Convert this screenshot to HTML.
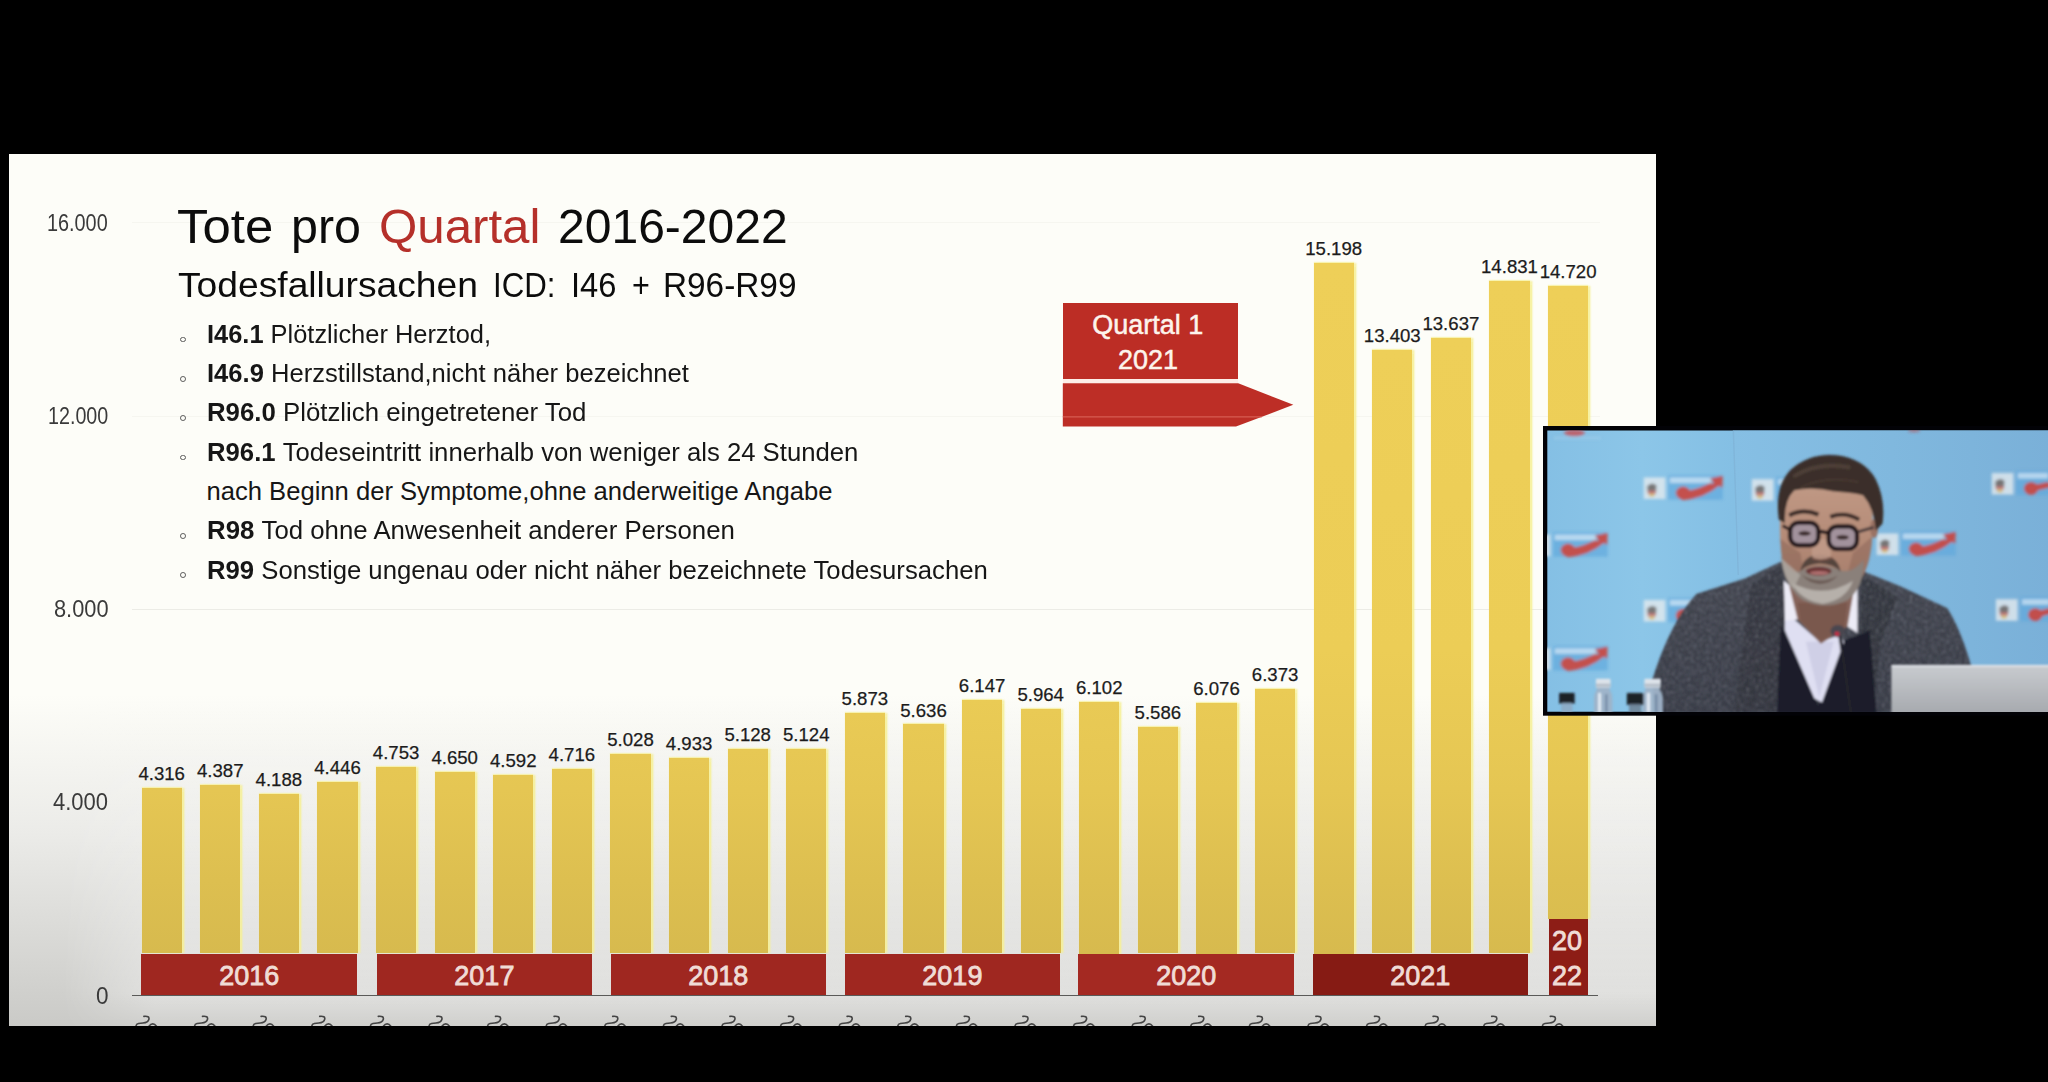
<!DOCTYPE html>
<html><head><meta charset="utf-8"><title>Tote pro Quartal 2016-2022</title>
<style>
html,body{margin:0;padding:0;background:#000;}
body{width:2048px;height:1082px;position:relative;overflow:hidden;font-family:"Liberation Sans",sans-serif;}
.r{position:absolute;box-sizing:content-box;}
.t{position:absolute;white-space:nowrap;line-height:1;transform-origin:0 0;font-family:"Liberation Sans",sans-serif;}
#slide{background:linear-gradient(to bottom,#fdfdf8 0%,#fdfdf8 62%,#ebebe8 78%,#cacac7 100%);}
.bar{position:absolute;box-shadow:2.6px 0 1.6px rgba(246,240,150,.85),0 -1px 1px rgba(248,241,166,.8);}
#clip{position:absolute;left:0;top:0;width:1656px;height:1026px;overflow:hidden;}
</style></head><body>
<div id="clip">
<div class="r" id="slide" style="left:9px;top:153.5px;width:1647px;height:872.5px;"></div>
<div class="r" style="left:60px;top:700px;width:1596px;height:326px;background:linear-gradient(to bottom,rgba(255,255,255,0),rgba(255,255,255,.36) 90%,rgba(255,255,255,.1));-webkit-mask-image:linear-gradient(to right,transparent 0,#000 95px);mask-image:linear-gradient(to right,transparent 0,#000 95px);"></div>
<div class="r" style="left:132.00px;top:608.80px;width:1468.00px;height:1.00px;background:#ecece6;"></div>
<div class="r" style="left:132.00px;top:222.00px;width:1468.00px;height:1.00px;background:#f6f6f0;"></div>
<div class="r" style="left:132.00px;top:416.00px;width:1468.00px;height:1.00px;background:#f6f6f0;"></div>
<span class="t" style="left:47.30px;top:211.53px;font-size:23.0px;color:#3a3a3a;transform:scaleX(0.8625);">16.000</span>
<span class="t" style="left:47.70px;top:404.53px;font-size:23.0px;color:#3a3a3a;transform:scaleX(0.8568);">12.000</span>
<span class="t" style="left:53.50px;top:598.13px;font-size:23.0px;color:#3a3a3a;transform:scaleX(0.9478);">8.000</span>
<span class="t" style="left:53.00px;top:791.13px;font-size:23.0px;color:#3a3a3a;transform:scaleX(0.9565);">4.000</span>
<span class="t" style="left:95.50px;top:984.53px;font-size:23.0px;color:#3a3a3a;transform:scaleX(0.9804);">0</span>
<div class="bar" style="left:141.50px;top:788.20px;width:40.4px;height:165.30px;background:linear-gradient(to bottom,rgb(229,198,83) 0.0px,rgb(229,198,83) 1.8px,rgb(221,191,80) 91.8px,rgb(215,186,78) 165.3px);"></div>
<span class="t" style="left:138.42px;top:765.25px;font-size:18.6px;color:#1c1c1c;-webkit-text-stroke:0.25px #1c1c1c;">4.316</span>
<div class="bar" style="left:200.10px;top:784.77px;width:40.4px;height:168.73px;background:linear-gradient(to bottom,rgb(229,198,83) 0.0px,rgb(229,198,83) 5.2px,rgb(221,191,80) 95.2px,rgb(215,186,78) 168.7px);"></div>
<span class="t" style="left:197.02px;top:761.83px;font-size:18.6px;color:#1c1c1c;-webkit-text-stroke:0.25px #1c1c1c;">4.387</span>
<div class="bar" style="left:258.70px;top:794.37px;width:40.4px;height:159.13px;background:linear-gradient(to bottom,rgb(229,198,83) 0.0px,rgb(221,191,80) 85.6px,rgb(215,186,78) 159.1px);"></div>
<span class="t" style="left:255.62px;top:771.43px;font-size:18.6px;color:#1c1c1c;-webkit-text-stroke:0.25px #1c1c1c;">4.188</span>
<div class="bar" style="left:317.30px;top:781.92px;width:40.4px;height:171.58px;background:linear-gradient(to bottom,rgb(229,198,83) 0.0px,rgb(229,198,83) 8.1px,rgb(221,191,80) 98.1px,rgb(215,186,78) 171.6px);"></div>
<span class="t" style="left:314.22px;top:758.98px;font-size:18.6px;color:#1c1c1c;-webkit-text-stroke:0.25px #1c1c1c;">4.446</span>
<div class="bar" style="left:375.90px;top:767.11px;width:40.4px;height:186.39px;background:linear-gradient(to bottom,rgb(230,199,83) 0.0px,rgb(229,198,83) 22.9px,rgb(221,191,80) 112.9px,rgb(215,186,78) 186.4px);"></div>
<span class="t" style="left:372.82px;top:744.16px;font-size:18.6px;color:#1c1c1c;-webkit-text-stroke:0.25px #1c1c1c;">4.753</span>
<div class="bar" style="left:434.50px;top:772.08px;width:40.4px;height:181.42px;background:linear-gradient(to bottom,rgb(230,199,83) 0.0px,rgb(229,198,83) 17.9px,rgb(221,191,80) 107.9px,rgb(215,186,78) 181.4px);"></div>
<span class="t" style="left:431.42px;top:749.13px;font-size:18.6px;color:#1c1c1c;-webkit-text-stroke:0.25px #1c1c1c;">4.650</span>
<div class="bar" style="left:493.10px;top:774.88px;width:40.4px;height:178.62px;background:linear-gradient(to bottom,rgb(230,199,83) 0.0px,rgb(229,198,83) 15.1px,rgb(221,191,80) 105.1px,rgb(215,186,78) 178.6px);"></div>
<span class="t" style="left:490.02px;top:751.93px;font-size:18.6px;color:#1c1c1c;-webkit-text-stroke:0.25px #1c1c1c;">4.592</span>
<div class="bar" style="left:551.70px;top:768.89px;width:40.4px;height:184.61px;background:linear-gradient(to bottom,rgb(230,199,83) 0.0px,rgb(229,198,83) 21.1px,rgb(221,191,80) 111.1px,rgb(215,186,78) 184.6px);"></div>
<span class="t" style="left:548.62px;top:745.95px;font-size:18.6px;color:#1c1c1c;-webkit-text-stroke:0.25px #1c1c1c;">4.716</span>
<div class="bar" style="left:610.30px;top:753.83px;width:40.4px;height:199.67px;background:linear-gradient(to bottom,rgb(231,200,84) 0.0px,rgb(229,198,83) 36.2px,rgb(221,191,80) 126.2px,rgb(215,186,78) 199.7px);"></div>
<span class="t" style="left:607.22px;top:730.89px;font-size:18.6px;color:#1c1c1c;-webkit-text-stroke:0.25px #1c1c1c;">5.028</span>
<div class="bar" style="left:668.90px;top:758.42px;width:40.4px;height:195.08px;background:linear-gradient(to bottom,rgb(231,200,84) 0.0px,rgb(229,198,83) 31.6px,rgb(221,191,80) 121.6px,rgb(215,186,78) 195.1px);"></div>
<span class="t" style="left:665.82px;top:735.47px;font-size:18.6px;color:#1c1c1c;-webkit-text-stroke:0.25px #1c1c1c;">4.933</span>
<div class="bar" style="left:727.50px;top:749.01px;width:40.4px;height:204.49px;background:linear-gradient(to bottom,rgb(231,200,84) 0.0px,rgb(229,198,83) 41.0px,rgb(221,191,80) 131.0px,rgb(215,186,78) 204.5px);"></div>
<span class="t" style="left:724.42px;top:726.06px;font-size:18.6px;color:#1c1c1c;-webkit-text-stroke:0.25px #1c1c1c;">5.128</span>
<div class="bar" style="left:786.10px;top:749.20px;width:40.4px;height:204.30px;background:linear-gradient(to bottom,rgb(231,200,84) 0.0px,rgb(229,198,83) 40.8px,rgb(221,191,80) 130.8px,rgb(215,186,78) 204.3px);"></div>
<span class="t" style="left:783.02px;top:726.26px;font-size:18.6px;color:#1c1c1c;-webkit-text-stroke:0.25px #1c1c1c;">5.124</span>
<div class="bar" style="left:844.70px;top:713.05px;width:40.4px;height:240.45px;background:linear-gradient(to bottom,rgb(233,202,85) 0.0px,rgb(229,198,83) 76.9px,rgb(221,191,80) 166.9px,rgb(215,186,78) 240.4px);"></div>
<span class="t" style="left:841.62px;top:690.11px;font-size:18.6px;color:#1c1c1c;-webkit-text-stroke:0.25px #1c1c1c;">5.873</span>
<div class="bar" style="left:903.30px;top:724.49px;width:40.4px;height:229.01px;background:linear-gradient(to bottom,rgb(232,201,84) 0.0px,rgb(229,198,83) 65.5px,rgb(221,191,80) 155.5px,rgb(215,186,78) 229.0px);"></div>
<span class="t" style="left:900.22px;top:701.54px;font-size:18.6px;color:#1c1c1c;-webkit-text-stroke:0.25px #1c1c1c;">5.636</span>
<div class="bar" style="left:961.90px;top:699.83px;width:40.4px;height:253.67px;background:linear-gradient(to bottom,rgb(234,203,85) 0.0px,rgb(229,198,83) 90.2px,rgb(221,191,80) 180.2px,rgb(215,186,78) 253.7px);"></div>
<span class="t" style="left:958.82px;top:676.88px;font-size:18.6px;color:#1c1c1c;-webkit-text-stroke:0.25px #1c1c1c;">6.147</span>
<div class="bar" style="left:1020.50px;top:708.66px;width:40.4px;height:244.84px;background:linear-gradient(to bottom,rgb(233,202,85) 0.0px,rgb(229,198,83) 81.3px,rgb(221,191,80) 171.3px,rgb(215,186,78) 244.8px);"></div>
<span class="t" style="left:1017.42px;top:685.71px;font-size:18.6px;color:#1c1c1c;-webkit-text-stroke:0.25px #1c1c1c;">5.964</span>
<div class="bar" style="left:1079.10px;top:702.00px;width:40.4px;height:251.50px;background:linear-gradient(to bottom,rgb(233,202,85) 0.0px,rgb(229,198,83) 88.0px,rgb(221,191,80) 178.0px,rgb(215,186,78) 251.5px);"></div>
<span class="t" style="left:1076.02px;top:679.05px;font-size:18.6px;color:#1c1c1c;-webkit-text-stroke:0.25px #1c1c1c;">6.102</span>
<div class="bar" style="left:1137.70px;top:726.90px;width:40.4px;height:226.60px;background:linear-gradient(to bottom,rgb(232,201,84) 0.0px,rgb(229,198,83) 63.1px,rgb(221,191,80) 153.1px,rgb(215,186,78) 226.6px);"></div>
<span class="t" style="left:1134.62px;top:703.96px;font-size:18.6px;color:#1c1c1c;-webkit-text-stroke:0.25px #1c1c1c;">5.586</span>
<div class="bar" style="left:1196.30px;top:703.25px;width:40.4px;height:250.25px;background:linear-gradient(to bottom,rgb(233,202,85) 0.0px,rgb(229,198,83) 86.7px,rgb(221,191,80) 176.7px,rgb(215,186,78) 250.2px);"></div>
<span class="t" style="left:1193.22px;top:680.31px;font-size:18.6px;color:#1c1c1c;-webkit-text-stroke:0.25px #1c1c1c;">6.076</span>
<div class="bar" style="left:1254.90px;top:688.92px;width:40.4px;height:264.58px;background:linear-gradient(to bottom,rgb(234,203,85) 0.0px,rgb(229,198,83) 101.1px,rgb(221,191,80) 191.1px,rgb(215,186,78) 264.6px);"></div>
<span class="t" style="left:1251.82px;top:665.98px;font-size:18.6px;color:#1c1c1c;-webkit-text-stroke:0.25px #1c1c1c;">6.373</span>
<div class="bar" style="left:1313.50px;top:263.00px;width:40.4px;height:690.50px;background:linear-gradient(to bottom,rgb(238,207,88) 0.0px,rgb(236,205,86) 387.0px,rgb(229,198,83) 527.0px,rgb(221,191,80) 617.0px,rgb(215,186,78) 690.5px);"></div>
<span class="t" style="left:1305.24px;top:240.05px;font-size:18.6px;color:#1c1c1c;-webkit-text-stroke:0.25px #1c1c1c;">15.198</span>
<div class="bar" style="left:1372.10px;top:349.63px;width:40.4px;height:603.87px;background:linear-gradient(to bottom,rgb(238,207,88) 0.0px,rgb(236,205,86) 300.4px,rgb(229,198,83) 440.4px,rgb(221,191,80) 530.4px,rgb(215,186,78) 603.9px);"></div>
<span class="t" style="left:1363.84px;top:326.69px;font-size:18.6px;color:#1c1c1c;-webkit-text-stroke:0.25px #1c1c1c;">13.403</span>
<div class="bar" style="left:1430.70px;top:338.34px;width:40.4px;height:615.16px;background:linear-gradient(to bottom,rgb(238,207,88) 0.0px,rgb(236,205,86) 311.7px,rgb(229,198,83) 451.7px,rgb(221,191,80) 541.7px,rgb(215,186,78) 615.2px);"></div>
<span class="t" style="left:1422.44px;top:315.39px;font-size:18.6px;color:#1c1c1c;-webkit-text-stroke:0.25px #1c1c1c;">13.637</span>
<div class="bar" style="left:1489.30px;top:280.71px;width:40.4px;height:672.79px;background:linear-gradient(to bottom,rgb(238,207,88) 0.0px,rgb(236,205,86) 369.3px,rgb(229,198,83) 509.3px,rgb(221,191,80) 599.3px,rgb(215,186,78) 672.8px);"></div>
<span class="t" style="left:1481.04px;top:257.77px;font-size:18.6px;color:#1c1c1c;-webkit-text-stroke:0.25px #1c1c1c;">14.831</span>
<div class="bar" style="left:1547.90px;top:286.07px;width:40.4px;height:632.53px;background:linear-gradient(to bottom,rgb(238,207,88) 0.0px,rgb(236,205,86) 363.9px,rgb(229,198,83) 503.9px,rgb(221,191,80) 593.9px,rgb(218,189,79) 632.5px);"></div>
<span class="t" style="left:1539.64px;top:263.12px;font-size:18.6px;color:#1c1c1c;-webkit-text-stroke:0.25px #1c1c1c;">14.720</span>
<div class="r" style="left:141.40px;top:953.50px;width:215.70px;height:41.70px;background:#9f2720;"></div>
<span class="t" style="left:219.19px;top:962.54px;font-size:27px;color:#f0dcd6;-webkit-text-stroke:0.8px #f0dcd6;">2016</span>
<div class="r" style="left:376.70px;top:953.50px;width:215.40px;height:41.70px;background:#9f2720;"></div>
<span class="t" style="left:454.34px;top:962.54px;font-size:27px;color:#f0dcd6;-webkit-text-stroke:0.8px #f0dcd6;">2017</span>
<div class="r" style="left:610.50px;top:953.50px;width:215.70px;height:41.70px;background:#9f2720;"></div>
<span class="t" style="left:688.29px;top:962.54px;font-size:27px;color:#f0dcd6;-webkit-text-stroke:0.8px #f0dcd6;">2018</span>
<div class="r" style="left:844.50px;top:953.50px;width:215.80px;height:41.70px;background:#9f2720;"></div>
<span class="t" style="left:922.34px;top:962.54px;font-size:27px;color:#f0dcd6;-webkit-text-stroke:0.8px #f0dcd6;">2019</span>
<div class="r" style="left:1078.40px;top:953.50px;width:215.80px;height:41.70px;background:#a42922;"></div>
<span class="t" style="left:1156.24px;top:962.54px;font-size:27px;color:#f0dcd6;-webkit-text-stroke:0.8px #f0dcd6;">2020</span>
<div class="r" style="left:1312.60px;top:953.50px;width:215.30px;height:41.70px;background:#861b14;"></div>
<span class="t" style="left:1390.19px;top:962.54px;font-size:27px;color:#f0dcd6;-webkit-text-stroke:0.8px #f0dcd6;">2021</span>
<div class="r" style="left:1548.50px;top:918.60px;width:39.00px;height:76.60px;background:#8d1d16;"></div>
<span class="t" style="left:1552.00px;top:927.64px;font-size:27px;color:#f0dcd6;-webkit-text-stroke:0.8px #f0dcd6;">20</span>
<span class="t" style="left:1552.00px;top:962.84px;font-size:27px;color:#f0dcd6;-webkit-text-stroke:0.8px #f0dcd6;">22</span>
<div class="r" style="left:132.00px;top:994.70px;width:1466.00px;height:1.30px;background:#5a5a58;"></div>
<svg class="r" style="left:0;top:0" width="1656" height="1026" viewBox="0 0 1656 1026"><path d="M143.9 1016.4Q149.7 1015.8 148.9 1019.2Q148.1 1022.6 143.0 1023L138.5 1023.5Q135.9 1024 135.9 1027M148.7 1026.5Q152.8 1021.3 156.7 1026.5M202.5 1016.4Q208.3 1015.8 207.5 1019.2Q206.7 1022.6 201.6 1023L197.1 1023.5Q194.5 1024 194.5 1027M207.3 1026.5Q211.4 1021.3 215.3 1026.5M261.1 1016.4Q266.9 1015.8 266.1 1019.2Q265.3 1022.6 260.2 1023L255.7 1023.5Q253.1 1024 253.1 1027M265.9 1026.5Q270.0 1021.3 273.9 1026.5M319.7 1016.4Q325.5 1015.8 324.7 1019.2Q323.9 1022.6 318.8 1023L314.3 1023.5Q311.7 1024 311.7 1027M324.5 1026.5Q328.6 1021.3 332.5 1026.5M378.3 1016.4Q384.1 1015.8 383.3 1019.2Q382.5 1022.6 377.4 1023L372.9 1023.5Q370.3 1024 370.3 1027M383.1 1026.5Q387.2 1021.3 391.1 1026.5M436.9 1016.4Q442.7 1015.8 441.9 1019.2Q441.1 1022.6 436.0 1023L431.5 1023.5Q428.9 1024 428.9 1027M441.7 1026.5Q445.8 1021.3 449.7 1026.5M495.5 1016.4Q501.3 1015.8 500.5 1019.2Q499.7 1022.6 494.6 1023L490.1 1023.5Q487.5 1024 487.5 1027M500.3 1026.5Q504.4 1021.3 508.3 1026.5M554.1 1016.4Q559.9 1015.8 559.1 1019.2Q558.3 1022.6 553.2 1023L548.7 1023.5Q546.1 1024 546.1 1027M558.9 1026.5Q563.0 1021.3 566.9 1026.5M612.7 1016.4Q618.5 1015.8 617.7 1019.2Q616.9 1022.6 611.8 1023L607.3 1023.5Q604.7 1024 604.7 1027M617.5 1026.5Q621.6 1021.3 625.5 1026.5M671.3 1016.4Q677.1 1015.8 676.3 1019.2Q675.5 1022.6 670.4 1023L665.9 1023.5Q663.3 1024 663.3 1027M676.1 1026.5Q680.2 1021.3 684.1 1026.5M729.9 1016.4Q735.7 1015.8 734.9 1019.2Q734.1 1022.6 729.0 1023L724.5 1023.5Q721.9 1024 721.9 1027M734.7 1026.5Q738.8 1021.3 742.7 1026.5M788.5 1016.4Q794.3 1015.8 793.5 1019.2Q792.7 1022.6 787.6 1023L783.1 1023.5Q780.5 1024 780.5 1027M793.3 1026.5Q797.4 1021.3 801.3 1026.5M847.1 1016.4Q852.9 1015.8 852.1 1019.2Q851.3 1022.6 846.2 1023L841.7 1023.5Q839.1 1024 839.1 1027M851.9 1026.5Q856.0 1021.3 859.9 1026.5M905.7 1016.4Q911.5 1015.8 910.7 1019.2Q909.9 1022.6 904.8 1023L900.3 1023.5Q897.7 1024 897.7 1027M910.5 1026.5Q914.6 1021.3 918.5 1026.5M964.3 1016.4Q970.1 1015.8 969.3 1019.2Q968.5 1022.6 963.4 1023L958.9 1023.5Q956.3 1024 956.3 1027M969.1 1026.5Q973.2 1021.3 977.1 1026.5M1022.9 1016.4Q1028.7 1015.8 1027.9 1019.2Q1027.1 1022.6 1022.0 1023L1017.5 1023.5Q1014.9 1024 1014.9 1027M1027.7 1026.5Q1031.8 1021.3 1035.7 1026.5M1081.5 1016.4Q1087.3 1015.8 1086.5 1019.2Q1085.7 1022.6 1080.6 1023L1076.1 1023.5Q1073.5 1024 1073.5 1027M1086.3 1026.5Q1090.4 1021.3 1094.3 1026.5M1140.1 1016.4Q1145.9 1015.8 1145.1 1019.2Q1144.3 1022.6 1139.2 1023L1134.7 1023.5Q1132.1 1024 1132.1 1027M1144.9 1026.5Q1149.0 1021.3 1152.9 1026.5M1198.7 1016.4Q1204.5 1015.8 1203.7 1019.2Q1202.9 1022.6 1197.8 1023L1193.3 1023.5Q1190.7 1024 1190.7 1027M1203.5 1026.5Q1207.6 1021.3 1211.5 1026.5M1257.3 1016.4Q1263.1 1015.8 1262.3 1019.2Q1261.5 1022.6 1256.4 1023L1251.9 1023.5Q1249.3 1024 1249.3 1027M1262.1 1026.5Q1266.2 1021.3 1270.1 1026.5M1315.9 1016.4Q1321.7 1015.8 1320.9 1019.2Q1320.1 1022.6 1315.0 1023L1310.5 1023.5Q1307.9 1024 1307.9 1027M1320.7 1026.5Q1324.8 1021.3 1328.7 1026.5M1374.5 1016.4Q1380.3 1015.8 1379.5 1019.2Q1378.7 1022.6 1373.6 1023L1369.1 1023.5Q1366.5 1024 1366.5 1027M1379.3 1026.5Q1383.4 1021.3 1387.3 1026.5M1433.1 1016.4Q1438.9 1015.8 1438.1 1019.2Q1437.3 1022.6 1432.2 1023L1427.7 1023.5Q1425.1 1024 1425.1 1027M1437.9 1026.5Q1442.0 1021.3 1445.9 1026.5M1491.7 1016.4Q1497.5 1015.8 1496.7 1019.2Q1495.9 1022.6 1490.8 1023L1486.3 1023.5Q1483.7 1024 1483.7 1027M1496.5 1026.5Q1500.6 1021.3 1504.5 1026.5M1550.3 1016.4Q1556.1 1015.8 1555.3 1019.2Q1554.5 1022.6 1549.4 1023L1544.9 1023.5Q1542.3 1024 1542.3 1027M1555.1 1026.5Q1559.2 1021.3 1563.1 1026.5" fill="none" stroke="#444" stroke-width="1.6" stroke-linecap="round"/></svg>
<span class="t" style="left:176.90px;top:202.32px;font-size:49.0px;color:#0c0c0c;transform:scaleX(1.0386);">Tote</span>
<span class="t" style="left:291.30px;top:202.32px;font-size:49.0px;color:#0c0c0c;transform:scaleX(0.9877);">pro</span>
<span class="t" style="left:378.80px;top:202.32px;font-size:49.0px;color:#b5302a;transform:scaleX(1.0047);">Quartal</span>
<span class="t" style="left:557.50px;top:202.32px;font-size:49.0px;color:#0c0c0c;transform:scaleX(0.9801);">2016-2022</span>
<span class="t" style="left:177.80px;top:268.03px;font-size:35.4px;color:#0c0c0c;transform:scaleX(1.0514);">Todesfallursachen</span>
<span class="t" style="left:492.50px;top:268.03px;font-size:35.4px;color:#0c0c0c;transform:scaleX(0.8828);">ICD:</span>
<span class="t" style="left:570.90px;top:268.03px;font-size:35.4px;color:#0c0c0c;transform:scaleX(0.9235);">I46</span>
<span class="t" style="left:631.90px;top:268.03px;font-size:35.4px;color:#0c0c0c;transform:scaleX(0.8624);">+</span>
<span class="t" style="left:663.10px;top:268.03px;font-size:35.4px;color:#0c0c0c;transform:scaleX(0.9420);">R96-R99</span>
<span class="t" style="left:207.00px;top:322.03px;font-size:25.6px;color:#161616;transform:scaleX(0.9931);"><b>I46.1 </b>Plötzlicher Herztod,</span>
<div class="r" style="left:180.2px;top:336.7px;width:3.8px;height:3.8px;border:1.4px solid #5a5a5a;border-radius:50%;"></div>
<span class="t" style="left:207.00px;top:361.33px;font-size:25.6px;color:#161616;transform:scaleX(0.9992);"><b>I46.9 </b>Herzstillstand,nicht näher bezeichnet</span>
<div class="r" style="left:180.2px;top:376.0px;width:3.8px;height:3.8px;border:1.4px solid #5a5a5a;border-radius:50%;"></div>
<span class="t" style="left:207.00px;top:400.33px;font-size:25.6px;color:#161616;transform:scaleX(1.0076);"><b>R96.0 </b>Plötzlich eingetretener Tod</span>
<div class="r" style="left:180.2px;top:415.0px;width:3.8px;height:3.8px;border:1.4px solid #5a5a5a;border-radius:50%;"></div>
<span class="t" style="left:207.00px;top:439.93px;font-size:25.6px;color:#161616;transform:scaleX(1.0039);"><b>R96.1 </b>Todeseintritt innerhalb von weniger als 24 Stunden</span>
<div class="r" style="left:180.2px;top:454.6px;width:3.8px;height:3.8px;border:1.4px solid #5a5a5a;border-radius:50%;"></div>
<span class="t" style="left:206.50px;top:478.73px;font-size:25.6px;color:#161616;">nach Beginn der Symptome,ohne anderweitige Angabe</span>
<span class="t" style="left:207.00px;top:518.33px;font-size:25.6px;color:#161616;transform:scaleX(1.0081);"><b>R98 </b>Tod ohne Anwesenheit anderer Personen</span>
<div class="r" style="left:180.2px;top:533.0px;width:3.8px;height:3.8px;border:1.4px solid #5a5a5a;border-radius:50%;"></div>
<span class="t" style="left:207.00px;top:557.53px;font-size:25.6px;color:#161616;transform:scaleX(1.0037);"><b>R99 </b>Sonstige ungenau oder nicht näher bezeichnete Todesursachen</span>
<div class="r" style="left:180.2px;top:572.2px;width:3.8px;height:3.8px;border:1.4px solid #5a5a5a;border-radius:50%;"></div>
<div class="r" style="left:1062.80px;top:378.80px;width:175.40px;height:4.40px;background:#fdeee8;"></div>
<div class="r" style="left:1062.80px;top:303.20px;width:175.40px;height:75.60px;background:#bc2d25;"></div>
<svg class="r" style="left:1060px;top:380px" width="240" height="50" viewBox="1060 380 240 50"><path d="M1062.8 383.2H1238.2L1293.3 404.8L1236 426.6H1062.8Z" fill="#bd2e26"/><path d="M1062.8 416.9H1262" stroke="#dc675c" stroke-width="1"/></svg>
<span class="t" style="left:1092.30px;top:312.24px;font-size:27px;color:#fdf4ec;-webkit-text-stroke:0.5px #fdf4ec;">Quartal 1</span>
<span class="t" style="left:1118.04px;top:346.84px;font-size:27px;color:#fdf4ec;-webkit-text-stroke:0.5px #fdf4ec;">2021</span>
</div>
<svg class="r" id="inset" style="left:1543.3px;top:426.3px" width="504.7" height="289.7" viewBox="1543.3 426.3 504.7 289.7">
<defs>
<filter id="b2" x="-5%" y="-5%" width="110%" height="110%"><feGaussianBlur stdDeviation="4.5"/></filter>
<filter id="b3" x="-5%" y="-5%" width="110%" height="110%"><feGaussianBlur stdDeviation="6"/></filter>
<linearGradient id="bgL" x1="0" y1="0" x2="1" y2="0"><stop offset="0" stop-color="#84bfe4"/><stop offset=".2" stop-color="#8cc6e8"/><stop offset=".38" stop-color="#84bfe4"/></linearGradient>
<linearGradient id="bgR" x1="0" y1="0" x2="1" y2="0"><stop offset="0" stop-color="#86bfe4"/><stop offset=".5" stop-color="#80b8de"/><stop offset="1" stop-color="#7ab0d8"/></linearGradient>
<linearGradient id="jk" x1="0" y1="0" x2="0" y2="1"><stop offset="0" stop-color="#42454f"/><stop offset="1" stop-color="#383b46"/></linearGradient>
<linearGradient id="sk" x1="0" y1="0" x2="0" y2="1"><stop offset="0" stop-color="#c19a86"/><stop offset=".5" stop-color="#b48a76"/><stop offset="1" stop-color="#a07868"/></linearGradient>
<linearGradient id="lp" x1="0" y1="0" x2="0" y2="1"><stop offset="0" stop-color="#c9ccd0"/><stop offset="1" stop-color="#a6a9ae"/></linearGradient>
<filter id="tw" x="0" y="0" width="100%" height="100%"><feTurbulence type="fractalNoise" baseFrequency="0.09" numOctaves="2" seed="4" result="n"/><feColorMatrix in="n" values="0 0 0 0 0.62  0 0 0 0 0.64  0 0 0 0 0.72  1.6 1.6 0 0 -1.35" result="c"/><feComposite in="c" in2="SourceGraphic" operator="in"/></filter>
<clipPath id="cp"><rect x="1547.6" y="430.7" width="501" height="281.3"/></clipPath>
</defs>
<rect x="1543.3" y="426.3" width="505" height="289.7" fill="#020206"/>
<g clip-path="url(#cp)"><g transform="translate(1540 420) scale(0.27732)">
<rect x="0" y="0" width="1840" height="1090" fill="url(#bgL)"/>
<path d="M697 0L1840 0L1840 1090L720 1090L716 560Z" fill="url(#bgR)"/>
<path d="M697 0L716 560" stroke="#7fb2d6" stroke-width="5" opacity=".7"/>
<g filter="url(#b3)" opacity=".88"><rect x="375" y="208" width="78" height="78" fill="#e6ebee" opacity=".9"/><path d="M387 240q16 -18 34 -4l-2 22h-30z" fill="#5a4a44" opacity=".8"/><path d="M387 256h34l-4 12h-26z" fill="#c8564a" opacity=".8"/><path d="M391 268h26l-6 10h-14z" fill="#e0b858" opacity=".85"/><rect x="463" y="200" width="197" height="88" fill="#5fa8dc" opacity=".75"/><rect x="469" y="208" width="150" height="20" fill="#dcecf8" opacity=".75"/><ellipse cx="517" cy="264" rx="26" ry="23" fill="#cc4038"/><path d="M503 276Q573 278 628 228l-14 -16l46 -10l-2 44l-12 -8Q593 284 515 290z" fill="#cc4038"/><path d="M533 268Q583 258 623 236" stroke="#cc4038" stroke-width="22" fill="none"/><rect x="765" y="214" width="78" height="78" fill="#e6ebee" opacity=".9"/><path d="M777 246q16 -18 34 -4l-2 22h-30z" fill="#5a4a44" opacity=".8"/><path d="M777 262h34l-4 12h-26z" fill="#c8564a" opacity=".8"/><path d="M781 274h26l-6 10h-14z" fill="#e0b858" opacity=".85"/><rect x="853" y="206" width="60" height="88" fill="#5fa8dc" opacity=".75"/><rect x="859" y="214" width="50" height="20" fill="#dcecf8" opacity=".75"/><ellipse cx="907" cy="270" rx="26" ry="23" fill="#cc4038"/><rect x="1630" y="192" width="78" height="78" fill="#e6ebee" opacity=".9"/><path d="M1642 224q16 -18 34 -4l-2 22h-30z" fill="#5a4a44" opacity=".8"/><path d="M1642 240h34l-4 12h-26z" fill="#c8564a" opacity=".8"/><path d="M1646 252h26l-6 10h-14z" fill="#e0b858" opacity=".85"/><rect x="1718" y="184" width="120" height="88" fill="#5fa8dc" opacity=".75"/><rect x="1724" y="192" width="110" height="20" fill="#dcecf8" opacity=".75"/><ellipse cx="1772" cy="248" rx="26" ry="23" fill="#cc4038"/><path d="M1768 250L1838 234" stroke="#cc4038" stroke-width="22" fill="none"/><rect x="-40" y="414" width="78" height="78" fill="#e6ebee" opacity=".9"/><path d="M-28 446q16 -18 34 -4l-2 22h-30z" fill="#5a4a44" opacity=".8"/><path d="M-28 462h34l-4 12h-26z" fill="#c8564a" opacity=".8"/><path d="M-24 474h26l-6 10h-14z" fill="#e0b858" opacity=".85"/><rect x="48" y="406" width="197" height="88" fill="#5fa8dc" opacity=".75"/><rect x="54" y="414" width="150" height="20" fill="#dcecf8" opacity=".75"/><ellipse cx="102" cy="470" rx="26" ry="23" fill="#cc4038"/><path d="M88 482Q158 484 213 434l-14 -16l46 -10l-2 44l-12 -8Q178 490 100 496z" fill="#cc4038"/><path d="M118 474Q168 464 208 442" stroke="#cc4038" stroke-width="22" fill="none"/><rect x="1215" y="410" width="78" height="78" fill="#e6ebee" opacity=".9"/><path d="M1227 442q16 -18 34 -4l-2 22h-30z" fill="#5a4a44" opacity=".8"/><path d="M1227 458h34l-4 12h-26z" fill="#c8564a" opacity=".8"/><path d="M1231 470h26l-6 10h-14z" fill="#e0b858" opacity=".85"/><rect x="1303" y="402" width="197" height="88" fill="#5fa8dc" opacity=".75"/><rect x="1309" y="410" width="150" height="20" fill="#dcecf8" opacity=".75"/><ellipse cx="1357" cy="466" rx="26" ry="23" fill="#cc4038"/><path d="M1343 478Q1413 480 1468 430l-14 -16l46 -10l-2 44l-12 -8Q1433 486 1355 492z" fill="#cc4038"/><path d="M1373 470Q1423 460 1463 438" stroke="#cc4038" stroke-width="22" fill="none"/><rect x="375" y="650" width="78" height="78" fill="#e6ebee" opacity=".9"/><path d="M387 682q16 -18 34 -4l-2 22h-30z" fill="#5a4a44" opacity=".8"/><path d="M387 698h34l-4 12h-26z" fill="#c8564a" opacity=".8"/><path d="M391 710h26l-6 10h-14z" fill="#e0b858" opacity=".85"/><rect x="463" y="642" width="100" height="88" fill="#5fa8dc" opacity=".75"/><rect x="469" y="650" width="90" height="20" fill="#dcecf8" opacity=".75"/><ellipse cx="517" cy="706" rx="26" ry="23" fill="#cc4038"/><path d="M513 708L563 692" stroke="#cc4038" stroke-width="22" fill="none"/><rect x="1645" y="647" width="78" height="78" fill="#e6ebee" opacity=".9"/><path d="M1657 679q16 -18 34 -4l-2 22h-30z" fill="#5a4a44" opacity=".8"/><path d="M1657 695h34l-4 12h-26z" fill="#c8564a" opacity=".8"/><path d="M1661 707h26l-6 10h-14z" fill="#e0b858" opacity=".85"/><rect x="1733" y="639" width="110" height="88" fill="#5fa8dc" opacity=".75"/><rect x="1739" y="647" width="100" height="20" fill="#dcecf8" opacity=".75"/><ellipse cx="1787" cy="703" rx="26" ry="23" fill="#cc4038"/><path d="M1783 705L1843 689" stroke="#cc4038" stroke-width="22" fill="none"/><rect x="-40" y="824" width="78" height="78" fill="#e6ebee" opacity=".9"/><path d="M-28 856q16 -18 34 -4l-2 22h-30z" fill="#5a4a44" opacity=".8"/><path d="M-28 872h34l-4 12h-26z" fill="#c8564a" opacity=".8"/><path d="M-24 884h26l-6 10h-14z" fill="#e0b858" opacity=".85"/><rect x="48" y="816" width="197" height="88" fill="#5fa8dc" opacity=".75"/><rect x="54" y="824" width="150" height="20" fill="#dcecf8" opacity=".75"/><ellipse cx="102" cy="880" rx="26" ry="23" fill="#cc4038"/><path d="M88 892Q158 894 213 844l-14 -16l46 -10l-2 44l-12 -8Q178 900 100 906z" fill="#cc4038"/><path d="M118 884Q168 874 208 852" stroke="#cc4038" stroke-width="22" fill="none"/><ellipse cx="125" cy="48" rx="38" ry="12" fill="#d23c3c" opacity=".8"/><ellipse cx="1350" cy="40" rx="22" ry="5" fill="#c04040" opacity=".7"/><rect x="50" y="62" width="170" height="8" fill="#a5d0ea" opacity=".7"/></g>
<g filter="url(#b2)"><path d="M420 1060L405 940Q470 730 565 628L740 572L870 512L1000 640L1150 540L1300 600L1470 680Q1520 760 1556 890L1556 1060Z" fill="url(#jk)"/><path d="M760 600L870 520L890 700L850 1060L700 1060Z" fill="#30323a" opacity=".7"/><path d="M1160 560L1290 640L1230 800L1200 1060L1150 1060Z" fill="#2e3038" opacity=".7"/><path d="M420 1060L405 940Q470 730 565 628L740 572L870 512L1000 640L1150 540L1300 600L1470 680Q1520 760 1556 890L1556 1060Z" fill="#000" filter="url(#tw)" opacity=".22"/><path d="M870 740L1005 1030L1085 800L1190 760L1215 1060L855 1060Z" fill="#1c1e2a"/><path d="M884 690L1010 800L1085 775L1098 800L1018 1020L990 1005L884 760Z" fill="#dfdff2"/><path d="M960 800L1008 1000L1060 800Z" fill="#cfcfe6"/><path d="M880 580L905 600L935 720L884 725Z" fill="#ecebf6"/><path d="M1128 590L1146 600L1146 770L1108 745Z" fill="#ecebf6"/><path d="M900 600L1135 600L1110 745L1014 808L930 720Z" fill="#86645a"/><path d="M930 660L1110 660L1100 745L1014 800L940 725Z" fill="#7a584e"/><path d="M868 320Q866 255 925 235Q1040 205 1160 245Q1203 270 1200 350Q1206 460 1172 550Q1120 655 1020 665Q930 655 888 565Q860 470 868 320Z" fill="url(#sk)"/><path d="M868 430Q870 520 895 575L960 600L940 480Z" fill="#8a6458" opacity=".55"/><path d="M1200 420Q1196 520 1160 570L1100 590L1130 480Z" fill="#8a6458" opacity=".5"/><ellipse cx="1206" cy="392" rx="14" ry="34" fill="#9a7264"/><path d="M862 360Q846 240 905 180Q975 118 1070 128Q1170 140 1212 215Q1248 290 1236 375L1212 400Q1206 318 1166 272Q1120 262 1058 258Q985 240 918 254Q880 290 884 372Z" fill="#3a2e29"/><path d="M915 205Q1000 150 1120 172" stroke="#5e4e44" stroke-width="14" fill="none" opacity=".6"/><path d="M940 245Q1030 200 1150 225" stroke="#4e3e36" stroke-width="10" fill="none" opacity=".6"/><path d="M870 490Q900 560 935 548Q1010 508 1080 542Q1125 560 1168 505Q1172 600 1112 650Q1030 690 948 650Q878 600 870 490Z" fill="#8a807a"/><path d="M905 585Q1020 650 1130 580Q1105 650 1020 664Q940 652 905 585Z" fill="#b6b0aa"/><path d="M872 500Q880 570 915 610L940 560Z" fill="#b0aaa4" opacity=".8"/><path d="M940 545Q950 490 1010 486Q1075 490 1085 548Q1060 520 1010 518Q965 520 940 545Z" fill="#54443e"/><path d="M945 560Q1010 600 1075 562Q1050 590 1010 592Q970 590 945 560Z" fill="#6a5a54"/><ellipse cx="1006" cy="546" rx="46" ry="15" fill="#6a3434"/><ellipse cx="1008" cy="552" rx="34" ry="7" fill="#b07070"/><path d="M990 430Q975 480 985 498Q1015 512 1050 495Q1055 470 1035 430Z" fill="#c09a88" opacity=".9"/><path d="M980 500Q1015 515 1055 498" stroke="#7a5448" stroke-width="7" fill="none" opacity=".8"/><path d="M900 345Q950 318 1005 342" stroke="#3a2c28" stroke-width="14" fill="none"/><path d="M1048 350Q1100 330 1152 360" stroke="#3a2c28" stroke-width="14" fill="none"/><rect x="903" y="371" width="102" height="82" rx="30" fill="#a2929c" stroke="#22181a" stroke-width="15"/><rect x="1042" y="384" width="102" height="82" rx="30" fill="#a2929c" stroke="#22181a" stroke-width="15"/><path d="M1010 402L1040 408" stroke="#22181a" stroke-width="12"/><path d="M1148 404L1204 388" stroke="#4a3c3c" stroke-width="11"/><path d="M900 395L876 382" stroke="#22181a" stroke-width="10"/><ellipse cx="955" cy="410" rx="22" ry="8" fill="#3a2c2c"/><ellipse cx="1092" cy="424" rx="22" ry="8" fill="#3a2c2c"/><path d="M1082 770L1122 1055" stroke="#22222a" stroke-width="12" fill="none"/><ellipse cx="1075" cy="762" rx="26" ry="22" fill="#4a4650"/><circle cx="1072" cy="772" r="9" fill="#c03048"/></g>
<g filter="url(#b2)"><rect x="1268" y="884" width="580" height="180" fill="url(#lp)"/><rect x="1268" y="884" width="580" height="7" fill="#dfe2e6"/><path d="M205.24 962h47.519999999999996v14q9.24 10 9.24 30v54h-66v-54q0 -20 9.24 -30z" fill="#9fb3c8" opacity=".95"/><rect x="202.6" y="934" width="52.800000000000004" height="32" rx="3" fill="#dde3ea"/><rect x="202.6" y="952" width="52.800000000000004" height="10" fill="#b4bcc6"/><rect x="210.52" y="985" width="10.56" height="70" fill="#eef4fa" opacity=".85"/><rect x="235.6" y="990" width="9.24" height="65" fill="#6f86a0" opacity=".8"/><path d="M380.36 962h53.28v14q10.360000000000001 10 10.360000000000001 30v54h-74v-54q0 -20 10.360000000000001 -30z" fill="#9fb3c8" opacity=".95"/><rect x="377.4" y="934" width="59.2" height="32" rx="3" fill="#dde3ea"/><rect x="377.4" y="952" width="59.2" height="10" fill="#b4bcc6"/><rect x="386.28" y="985" width="11.84" height="70" fill="#eef4fa" opacity=".85"/><rect x="414.4" y="990" width="10.360000000000001" height="65" fill="#6f86a0" opacity=".8"/><rect x="70" y="985" width="56" height="40" rx="4" fill="#1c2028"/><rect x="78" y="1020" width="40" height="40" fill="#8fa8c0" opacity=".8"/><rect x="314" y="985" width="60" height="44" rx="4" fill="#1c2028"/><rect x="322" y="1024" width="44" height="40" fill="#6a7a8c" opacity=".8"/></g>
</g></g>
</svg>
</body></html>
